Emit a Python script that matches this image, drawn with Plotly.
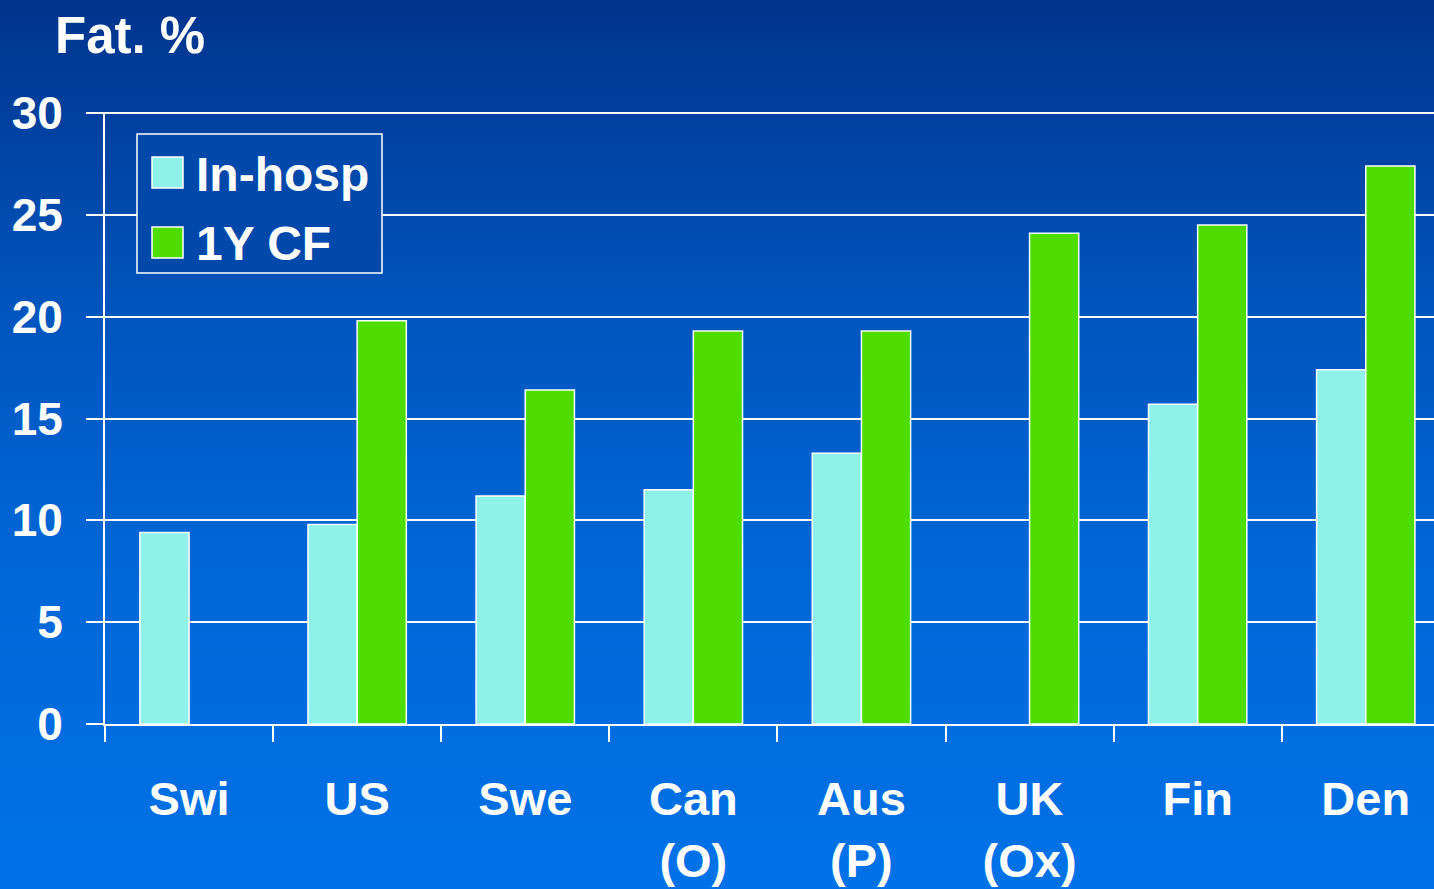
import plotly.graph_objects as go

# Data
countries = ["Swi", "US", "Swe", "Can<br>(O)", "Aus<br>(P)", "UK<br>(Ox)", "Fin", "Den"]
in_hosp = [9.4, 9.8, 11.2, 11.5, 13.3, None, 15.7, 17.4]
one_year_cf = [None, 19.8, 16.4, 19.3, 19.3, 24.1, 24.5, 27.4]
y_ticks = [0, 5, 10, 15, 20, 25, 30]

COLORS = {
    "in_hosp": "#8ff2ea",
    "cf": "#4fdc00",
    "legend_bg": "rgb(0,72,170)",
}
FONT = "Liberation Sans, Arial, sans-serif"

W, H = 1434, 889
L, T, B = 105, 112, 165
PW, PH = W - L, H - T - B


def px_x(p):
    return (p - L) / PW


def px_y(p):
    return (H - B - p) / PH


fig = go.Figure()
fig.add_trace(go.Bar(
    x=countries, y=in_hosp, name="In-hosp",
    marker=dict(color=COLORS["in_hosp"], line=dict(color="white", width=1.5)),
    showlegend=False,
))
fig.add_trace(go.Bar(
    x=countries, y=one_year_cf, name="1Y CF",
    marker=dict(color=COLORS["cf"], line=dict(color="white", width=1.5)),
    showlegend=False,
))

# vertical gradient background
stops = [(0, (0, 52, 140)), (300, (0, 84, 188)), (550, (0, 102, 214)), (889, (0, 114, 232))]


def grad(p):
    for (p0, c0), (p1, c1) in zip(stops[:-1], stops[1:]):
        if p0 <= p <= p1:
            t = (p - p0) / (p1 - p0)
            return "rgb(%d,%d,%d)" % tuple(round(a + (b - a) * t) for a, b in zip(c0, c1))
    return "rgb(%d,%d,%d)" % stops[-1][1]


shapes = []
step = 8
for p in range(0, H, step):
    shapes.append(dict(
        type="rect", xref="paper", yref="paper", layer="below",
        x0=px_x(0), x1=px_x(W), y0=px_y(p + step + 1), y1=px_y(p),
        fillcolor=grad(p + step / 2), line=dict(width=0),
    ))

# hand-drawn legend box with large swatches
shapes.append(dict(
    type="rect", xref="paper", yref="paper", layer="above",
    x0=px_x(137), x1=px_x(382), y0=px_y(273), y1=px_y(134),
    fillcolor=COLORS["legend_bg"], line=dict(color="white", width=1.5),
))
for top, col in [(157, COLORS["in_hosp"]), (227, COLORS["cf"])]:
    shapes.append(dict(
        type="rect", xref="paper", yref="paper", layer="above",
        x0=px_x(152), x1=px_x(183), y0=px_y(top + 31), y1=px_y(top),
        fillcolor=col, line=dict(color="white", width=1.5),
    ))

annotations = []
for cy, label in [(174, "In-hosp"), (243, "1Y CF")]:
    annotations.append(dict(
        xref="paper", yref="paper", x=px_x(194), y=px_y(cy),
        xanchor="left", yanchor="middle", text=label, showarrow=False,
        font=dict(family=FONT, size=48, color="white", weight="bold"),
    ))

fig.update_layout(
    width=W, height=H,
    margin=dict(l=L, r=0, t=T, b=B),
    paper_bgcolor="rgb(0,84,188)",
    plot_bgcolor="rgba(0,0,0,0)",
    barmode="group",
    bargap=0.415,
    bargroupgap=0,
    shapes=shapes,
    annotations=annotations,
    title=dict(
        text="Fat. %", x=55 / W, xanchor="left", y=1 - 35 / H, yanchor="middle",
        font=dict(family=FONT, size=51, color="white", weight="bold"),
    ),
    font=dict(family=FONT, color="white"),
)
fig.update_xaxes(
    range=[-0.5, 7.406],
    showline=True, linecolor="white", linewidth=2,
    ticks="outside", tickson="boundaries", ticklen=16, tickcolor="white", tickwidth=1.5,
    tickfont=dict(family=FONT, size=47, color="white", weight="bold"),
    ticklabelstandoff=33,
    showgrid=False,
)
fig.update_yaxes(
    range=[0, 30.05], tickvals=y_ticks,
    showline=True, linecolor="white", linewidth=2,
    showgrid=True, gridcolor="white", gridwidth=2, zeroline=False,
    ticks="outside", ticklen=17, tickcolor="white", tickwidth=2,
    tickfont=dict(family=FONT, size=46, color="white", weight="bold"),
    ticklabelstandoff=14,
)

fig.write_html(
    "out.html",
    config={"displayModeBar": False},
    post_script="document.body.style.margin='0';document.body.style.overflow='hidden';",
)
